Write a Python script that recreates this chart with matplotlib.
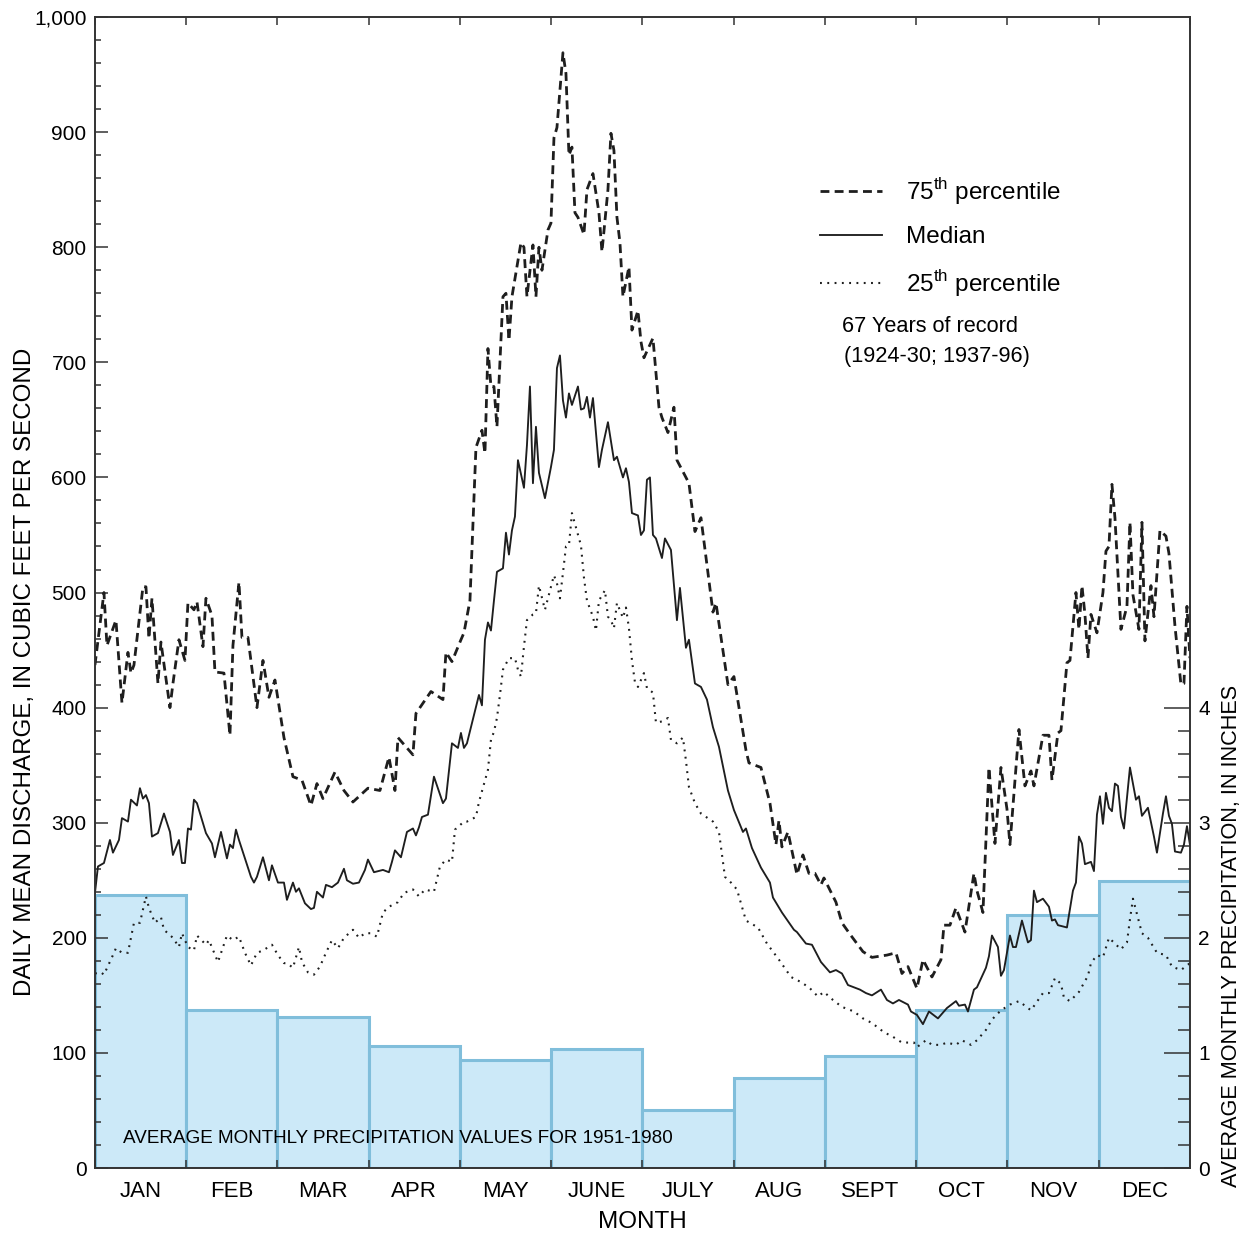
import numpy as np
import matplotlib.pyplot as plt
from matplotlib.ticker import MultipleLocator, FixedLocator, FuncFormatter, NullFormatter

plt.rcParams['font.family'] = ['Liberation Sans', 'DejaVu Sans']
plt.rcParams['mathtext.fontset'] = 'custom'
plt.rcParams['mathtext.rm'] = 'Liberation Sans'

# Monatsbeschriftung und mittlerer Monatsniederschlag (Zoll), 1951-1980
months = ["JAN", "FEB", "MAR", "APR", "MAY", "JUNE", "JULY", "AUG", "SEPT", "OCT", "NOV", "DEC"]
precip = [2.37, 1.37, 1.31, 1.06, 0.94, 1.03, 0.50, 0.78, 0.97, 1.37, 2.20, 2.49]

# Tagesabfluss (ft3/s), Tag des Jahres -> Wert
p75_days = [0, 3, 4, 7, 9, 11, 12, 13, 16, 17, 18, 19, 21, 22, 25, 26, 28, 30, 31, 33, 34, 36, 37, 39, 40,
            43, 45, 46, 48, 49, 51, 54, 56, 58, 60, 63, 66, 69, 72, 74, 76, 80, 83, 86, 91, 95, 98, 100, 101,
            106, 107, 112, 116, 117, 119, 122, 123, 125, 127, 129, 130, 131, 132, 133, 134, 136, 137, 138, 139,
            142, 143, 144, 146, 147, 148, 149, 151, 152, 153, 154, 156, 157, 158, 159, 160, 161, 163, 164, 166,
            168, 169, 171, 172, 173, 174, 175, 176, 178, 179, 181, 182, 183, 186, 188, 189, 191, 193, 194, 198,
            200, 202, 206, 207, 211, 213, 217, 218, 222, 225, 227, 228, 229, 231, 234, 236, 238, 240, 242, 243,
            247, 249, 252, 256, 259, 264, 267, 269, 271, 274, 276, 279, 282, 283, 285, 287, 290, 293, 294, 296,
            298, 300, 302, 304, 305, 308, 310, 312, 313, 316, 318, 319, 321, 322, 324, 325, 327, 328, 329, 330,
            331, 332, 334, 336, 337, 338, 339, 340, 342, 344, 345, 346, 348, 349, 350, 352, 353, 355, 357, 358,
            360, 362, 363, 364, 365]
p75 = [437, 500, 454, 476, 404, 448, 430, 437, 505, 505, 460, 495, 421, 457, 400, 421, 459, 441, 491, 485, 492,
       453, 495, 480, 431, 430, 376, 454, 509, 461, 461, 400, 441, 409, 424, 374, 340, 337, 315, 334, 321, 344,
       328, 318, 330, 328, 357, 328, 374, 359, 395, 414, 407, 448, 440, 459, 465, 493, 626, 641, 621, 712, 679,
       679, 644, 757, 760, 719, 757, 804, 800, 757, 802, 757, 800, 780, 815, 821, 895, 904, 969, 951, 880, 887,
       830, 826, 811, 850, 864, 830, 796, 850, 899, 884, 826, 804, 757, 783, 728, 745, 718, 704, 721, 661, 652,
       639, 661, 615, 595, 553, 565, 483, 491, 420, 427, 363, 352, 348, 317, 281, 302, 279, 292, 255, 272, 256,
       256, 246, 252, 231, 213, 202, 188, 183, 185, 187, 169, 175, 156, 181, 166, 181, 211, 211, 226, 205, 256,
       241, 222, 348, 282, 348, 312, 281, 381, 332, 345, 332, 376, 376, 337, 378, 380, 439, 441, 500, 468, 506,
       481, 443, 481, 465, 500, 536, 540, 594, 565, 468, 488, 561, 498, 468, 561, 458, 506, 479, 554, 549, 534,
       471, 420, 421, 488, 443]

med_days = [0, 1, 3, 5, 6, 8, 9, 11, 12, 14, 15, 16, 17, 18, 19, 21, 23, 25, 26, 28, 29, 30, 31, 32, 33, 34, 37,
            39, 40, 42, 44, 45, 46, 47, 48, 50, 52, 53, 54, 56, 58, 59, 61, 63, 64, 66, 67, 68, 70, 72, 73, 74,
            76, 77, 79, 81, 83, 84, 86, 88, 90, 91, 93, 96, 98, 99, 100, 102, 104, 106, 107, 108, 109, 111, 113,
            116, 117, 119, 121, 122, 123, 124, 128, 129, 130, 131, 132, 133, 134, 136, 137, 138, 139, 140, 141,
            143, 144, 145, 146, 147, 148, 150, 152, 153, 154, 155, 156, 157, 158, 159, 161, 162, 163, 164, 165,
            166, 168, 169, 171, 173, 174, 176, 177, 178, 179, 181, 182, 183, 184, 185, 186, 187, 189, 190, 192,
            194, 195, 197, 198, 200, 202, 204, 206, 208, 211, 213, 216, 217, 219, 222, 225, 226, 229, 233, 234,
            237, 239, 242, 245, 247, 249, 251, 253, 255, 257, 259, 262, 264, 266, 268, 271, 272, 274, 276, 278,
            281, 284, 287, 288, 290, 291, 293, 294, 297, 298, 299, 301, 302, 303, 305, 306, 307, 309, 311, 312,
            313, 314, 316, 318, 319, 320, 321, 324, 326, 327, 328, 329, 330, 332, 333, 334, 335, 336, 337, 338,
            339, 340, 341, 342, 343, 345, 347, 348, 349, 351, 353, 354, 356, 357, 358, 359, 360, 362, 363, 364,
            365]
median = [239, 262, 265, 285, 274, 285, 304, 301, 320, 315, 330, 321, 324, 317, 288, 291, 308, 292, 272, 285, 265,
          265, 295, 294, 320, 317, 291, 282, 270, 292, 269, 281, 278, 294, 285, 269, 253, 248, 253, 270, 250, 263,
          248, 248, 233, 248, 240, 243, 230, 225, 226, 240, 235, 246, 244, 248, 260, 250, 247, 248, 259, 268, 257,
          259, 257, 266, 276, 270, 292, 295, 289, 296, 305, 307, 340, 317, 321, 369, 365, 378, 365, 369, 411, 402,
          459, 474, 467, 493, 518, 521, 552, 533, 554, 566, 615, 591, 628, 679, 595, 644, 604, 582, 609, 624, 695,
          706, 667, 652, 673, 663, 679, 659, 660, 670, 652, 669, 609, 624, 648, 615, 618, 600, 608, 596, 569, 567,
          550, 554, 598, 600, 550, 547, 530, 547, 537, 476, 504, 452, 459, 421, 418, 407, 383, 366, 328, 311, 292,
          295, 278, 261, 248, 235, 222, 207, 205, 195, 194, 179, 170, 172, 169, 159, 157, 155, 152, 150, 155, 146,
          143, 146, 142, 136, 133, 125, 136, 130, 139, 145, 141, 142, 136, 155, 157, 174, 184, 202, 192, 167, 172,
          202, 192, 192, 215, 196, 198, 241, 231, 234, 227, 215, 216, 211, 209, 241, 248, 288, 282, 264, 266, 258,
          307, 323, 299, 326, 313, 310, 334, 332, 305, 295, 348, 320, 323, 306, 313, 288, 274, 308, 323, 306, 299,
          275, 274, 281, 297, 281]

p25_days = [0, 2, 3, 6, 7, 9, 11, 13, 15, 17, 18, 20, 22, 23, 26, 28, 29, 31, 33, 34, 37, 38, 41, 44, 46, 48, 50,
            52, 54, 56, 59, 61, 63, 64, 66, 68, 69, 71, 73, 75, 77, 79, 81, 83, 86, 88, 90, 92, 94, 96, 98, 101,
            103, 106, 108, 110, 113, 115, 117, 119, 120, 123, 124, 127, 128, 131, 132, 133, 134, 135, 136, 138,
            140, 141, 142, 143, 144, 146, 147, 148, 150, 151, 153, 154, 155, 156, 157, 158, 159, 162, 163, 164,
            166, 167, 168, 170, 171, 172, 173, 174, 176, 177, 178, 179, 180, 181, 183, 184, 186, 187, 189, 191,
            192, 194, 196, 197, 198, 200, 202, 206, 208, 210, 212, 214, 217, 221, 224, 228, 232, 235, 238, 241,
            243, 246, 249, 253, 256, 259, 263, 266, 269, 273, 274, 277, 279, 282, 284, 287, 289, 292, 294, 297,
            299, 302, 305, 308, 312, 316, 318, 320, 322, 323, 325, 328, 331, 332, 334, 336, 338, 342, 344, 345,
            346, 347, 349, 351, 354, 357, 359, 362, 364, 365]
p25 = [169, 170, 168, 185, 191, 187, 187, 213, 213, 236, 226, 213, 218, 207, 200, 192, 204, 192, 189, 202, 194, 198,
       179, 202, 198, 201, 187, 176, 187, 189, 194, 185, 178, 178, 174, 192, 179, 170, 168, 175, 187, 198, 191, 200,
       207, 200, 204, 204, 201, 222, 227, 231, 239, 242, 236, 242, 240, 262, 268, 266, 294, 301, 301, 305, 318, 346,
       372, 379, 391, 411, 433, 443, 443, 433, 427, 453, 476, 481, 482, 506, 485, 495, 515, 508, 495, 517, 540, 541,
       569, 541, 513, 493, 479, 467, 493, 502, 479, 476, 469, 491, 478, 487, 469, 441, 422, 418, 430, 417, 413, 387,
       388, 391, 372, 369, 374, 354, 331, 317, 308, 301, 292, 253, 248, 242, 215, 209, 195, 181, 166, 162, 157, 149,
       153, 146, 140, 136, 130, 126, 118, 114, 109, 109, 105, 111, 107, 107, 109, 107, 111, 107, 111, 120, 129, 137,
       142, 145, 137, 152, 152, 165, 160, 148, 145, 153, 167, 178, 185, 183, 200, 190, 196, 216, 234, 224, 204, 200,
       187, 185, 175, 172, 176, 178]

fig = plt.figure(figsize=(12.51, 12.36), dpi=100)
ax = fig.add_axes([0.0759, 0.0550, 0.8753, 0.9312])
ax2 = ax.twinx()

# Niederschlag als Balken (rechte Achse)
ax2.bar(np.arange(12) + 0.5, precip, width=1.0, color='#cce9f8', edgecolor='#80bedb', linewidth=2.2)
ax2.set_ylim(0, 10)
ax2.yaxis.set_major_locator(FixedLocator([0, 1, 2, 3, 4]))
ax2.yaxis.set_minor_locator(FixedLocator(np.arange(0.2, 4.0, 0.2)))
ax2.tick_params(axis='y', which='major', direction='in', length=19, width=1.1, labelsize=15, pad=6, color='#333333')
ax2.tick_params(axis='y', which='minor', direction='in', length=9, width=1.1, color='#333333')

# Abflusslinien obenauf
ax.set_zorder(ax2.get_zorder() + 1)
ax.patch.set_visible(False)

def to_month(d):
    return np.array(d) / 365.0 * 12

ax.plot(to_month(p75_days), p75, color='#1e1e1e', lw=2.0, linestyle=(0, (3.2, 1.9)), label=r'75$^{\mathrm{th}}$ percentile')
ax.plot(to_month(med_days), median, color='#1e1e1e', lw=1.35, label='Median')
ax.plot(to_month(p25_days), p25, color='#1e1e1e', lw=1.5, linestyle=(0, (0.9, 2.6)), label=r'25$^{\mathrm{th}}$ percentile')

ax.set_xlim(0, 12)
ax.set_ylim(0, 1000)
ax.xaxis.set_major_locator(FixedLocator(range(13)))
ax.xaxis.set_major_formatter(NullFormatter())
ax.xaxis.set_minor_locator(FixedLocator(np.arange(12) + 0.5))
ax.xaxis.set_minor_formatter(FuncFormatter(lambda v, p: months[int(v)]))
ax.tick_params(axis='x', which='major', direction='in', length=6, width=1.1, top=True, color='#333333')
ax.tick_params(axis='x', which='minor', length=0, labelsize=16, pad=9)

ax.yaxis.set_major_locator(MultipleLocator(100))
ax.yaxis.set_minor_locator(MultipleLocator(20))
ax.yaxis.set_major_formatter(FuncFormatter(lambda v, p: f"{int(v):,}"))
ax.tick_params(axis='y', which='major', direction='in', length=9, width=1.1, labelsize=15, pad=6, color='#333333')
ax.tick_params(axis='y', which='minor', direction='in', length=4.5, width=1.1, color='#333333')

for a in (ax, ax2):
    for s in a.spines.values():
        s.set_linewidth(1.2)
        s.set_color('#333333')

leg = ax.legend(loc='upper left', bbox_to_anchor=(0.662, 0.862), frameon=False, fontsize=17.5,
                handlelength=2.55, handletextpad=1.0, labelspacing=0.8, borderpad=0, borderaxespad=0)

ax.text(0.307, 26, "AVERAGE MONTHLY PRECIPITATION VALUES FOR 1951-1980", fontsize=13.6, va='center', ha='left')
ax.text(8.19, 731, "67 Years of record", fontsize=15.7, va='center', ha='left')
ax.text(8.21, 705, "(1924-30; 1937-96)", fontsize=15.7, va='center', ha='left')

fig.text(25 / 1251, 1 - 672 / 1236, "DAILY MEAN DISCHARGE, IN CUBIC FEET PER SECOND", rotation=90,
         ha='center', va='center', fontsize=17.4)
fig.text(1232 / 1251, 1 - 936 / 1236, "AVERAGE MONTHLY PRECIPITATION, IN INCHES", rotation=90,
         ha='center', va='center', fontsize=15.6)
fig.text(642 / 1251, 1 - 1222 / 1236, "MONTH", ha='center', va='center', fontsize=17.5)

fig.savefig("out.png", dpi=100)
